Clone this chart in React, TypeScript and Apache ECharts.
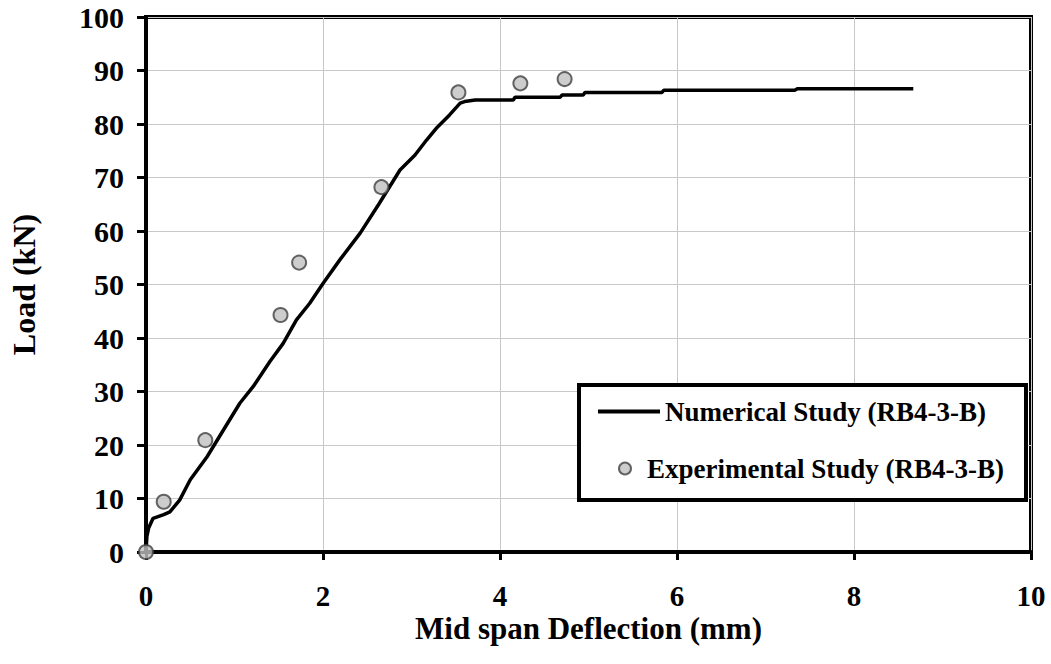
import React, { useEffect, useRef } from "react";
import * as echarts from "echarts";

const numericalX = [0, 0.01, 0.03, 0.08, 0.2, 0.27, 0.38, 0.5, 0.69, 1.06, 1.21, 1.4, 1.55, 1.7, 1.85, 2.0, 2.19, 2.42, 2.63, 2.87, 3.04, 3.17, 3.28, 3.43, 3.55, 3.6, 3.72, 4.15, 4.17, 4.68, 4.7, 4.94, 4.96, 5.83, 5.85, 7.33, 7.36, 8.67];
const numericalY = [0, 2.9, 4.5, 6.3, 7.0, 7.5, 9.7, 13.5, 17.8, 27.8, 30.9, 35.6, 39.0, 43.4, 46.5, 50.2, 54.6, 59.6, 65.0, 71.4, 74.2, 77.0, 79.2, 81.7, 83.9, 84.2, 84.5, 84.5, 85.0, 85.0, 85.4, 85.4, 85.9, 85.9, 86.3, 86.3, 86.6, 86.6];

const experimentalX = [0, 0.2, 0.67, 1.52, 1.73, 2.66, 3.53, 4.23, 4.73];
const experimentalY = [0, 9.4, 20.9, 44.3, 54.1, 68.2, 85.9, 87.6, 88.4];

const xTicks = [0, 2, 4, 6, 8, 10];
const yTicks = [0, 10, 20, 30, 40, 50, 60, 70, 80, 90, 100];

const numName = "Numerical Study (RB4-3-B)";
const expName = "Experimental Study (RB4-3-B)";
const FONT = "'Liberation Serif', 'Times New Roman', serif";

export default function App() {
  const ref = useRef<HTMLDivElement>(null);
  useEffect(() => {
    if (!ref.current) return;
    const chart = echarts.init(ref.current, undefined, { renderer: "svg" });
    const textBase = { fontFamily: FONT, fontWeight: "bold" as const, color: "#000" };
    chart.setOption({
      animation: false,
      backgroundColor: "#fff",
      grid: {
        left: 146,
        right: 20,
        top: 17,
        bottom: 112,
        show: true,
        borderColor: "#000",
        borderWidth: 4,
        containLabel: false,
        outerBoundsMode: "none",
      },
      xAxis: {
        type: "value",
        min: xTicks[0],
        max: xTicks[xTicks.length - 1],
        interval: 2,
        name: "Mid span Deflection (mm)",
        nameLocation: "middle",
        nameGap: 63,
        nameMoveOverlap: false,
        nameTextStyle: { ...textBase, fontSize: 31, lineHeight: 26 },
        axisLine: { show: true, lineStyle: { color: "#000", width: 4 } },
        axisTick: { show: true, inside: false, length: 8, lineStyle: { color: "#000", width: 3 } },
        axisLabel: { ...textBase, fontSize: 29, lineHeight: 22, margin: 33 },
        splitLine: { show: true, lineStyle: { color: "#c8c8c8", width: 1 } },
      },
      yAxis: {
        type: "value",
        min: yTicks[0],
        max: yTicks[yTicks.length - 1],
        interval: 10,
        name: "Load (kN)",
        nameLocation: "middle",
        nameGap: 106,
        nameMoveOverlap: false,
        nameTextStyle: { ...textBase, fontSize: 32 },
        axisLine: { show: true, lineStyle: { color: "#000", width: 4 } },
        axisTick: { show: true, inside: false, length: 9, lineStyle: { color: "#000", width: 3 } },
        axisLabel: { ...textBase, fontSize: 30, margin: 22 },
        splitLine: { show: true, lineStyle: { color: "#c8c8c8", width: 1 } },
      },
      legend: [
        {
          data: [{ name: numName, icon: "rect" }],
          left: 598,
          top: 398,
          orient: "vertical",
          itemWidth: 62,
          itemHeight: 4,
          padding: 0,
          selectedMode: false,
          itemStyle: { color: "#000" },
          textStyle: { ...textBase, fontSize: 27 },
          z: 10,
        },
        {
          data: [expName],
          left: 618,
          top: 455,
          orient: "vertical",
          itemWidth: 34,
          itemHeight: 12,
          padding: 0,
          selectedMode: false,
          textStyle: { ...textBase, fontSize: 27 },
          z: 10,
        },
      ],
      graphic: [
        {
          type: "rect",
          z: 5,
          shape: { x: 579, y: 385, width: 447, height: 115 },
          style: { fill: "#fff", stroke: "#000", lineWidth: 4 },
        },
      ],
      series: [
        {
          name: numName,
          type: "line",
          data: numericalX.map((x, i) => [x, numericalY[i]]),
          symbol: "none",
          lineStyle: { color: "#000", width: 3.5 },
          itemStyle: { color: "#000" },
          z: 3,
        },
        {
          name: expName,
          type: "scatter",
          data: experimentalX.map((x, i) => [x, experimentalY[i]]),
          symbol: "circle",
          symbolSize: 14,
          clip: false,
          itemStyle: { color: "#c0c0c0", borderColor: "#404040", borderWidth: 2 },
          z: 4,
        },
      ],
    });
    return () => chart.dispose();
  }, []);
  return (
    <div
      ref={ref}
      style={{ position: "fixed", left: 0, top: 0, width: 1051, height: 664, background: "#fff" }}
    />
  );
}
